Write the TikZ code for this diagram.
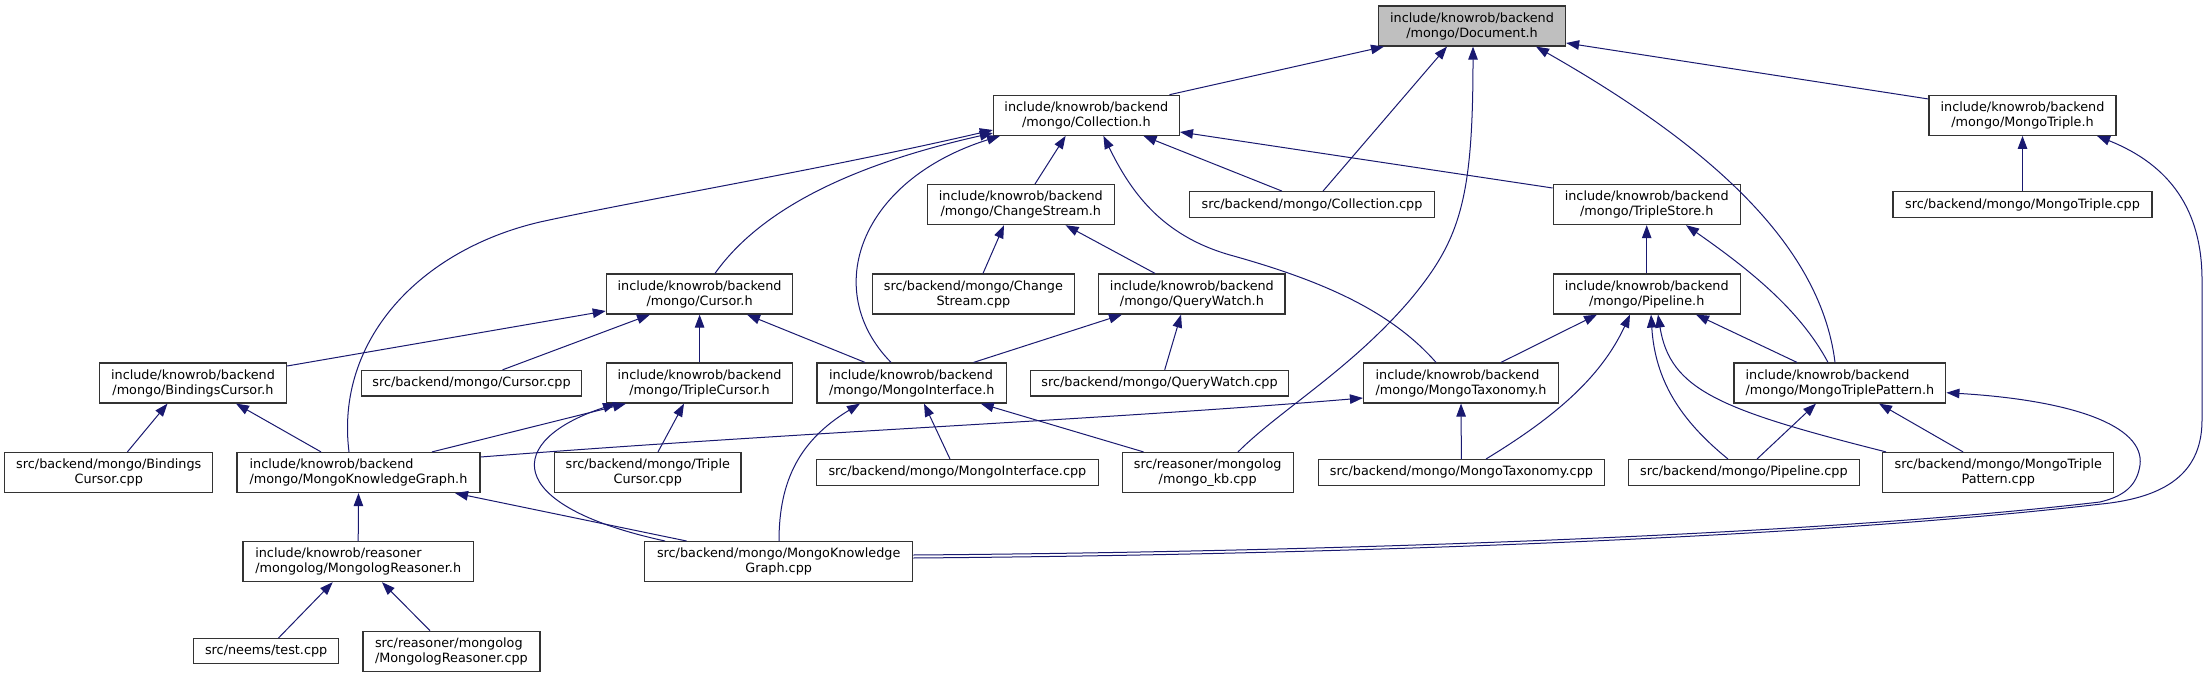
\documentclass[tikz,border=0pt]{standalone}
\usepackage{fontspec}
\setmainfont{DejaVu Sans}
\usetikzlibrary{arrows.meta}
\definecolor{edgeblue}{RGB}{25,25,112}
\definecolor{rootgray}{RGB}{191,191,191}
\tikzset{
  box/.style={draw=black!80, line width=1.2pt, fill=white, rectangle, inner sep=0pt,
    align=center, font=\fontsize{12.8}{15}\selectfont, text=black, minimum height=40pt},
  boxl/.style={box, align=left},
  onebox/.style={box, minimum height=25.6pt},
  rootbox/.style={box, fill=rootgray},
  dep/.style={draw=edgeblue, line width=1pt, {Triangle[length=13pt,width=9.5pt]}-}
}
\begin{document}
\begin{tikzpicture}[x=1pt,y=-1pt]
\fill[white] (0,0) rectangle (2208,677);
\useasboundingbox (0,0) rectangle (2208,677);

% nodes
\node[rootbox, minimum width=187pt] (doc) at (1472,26) {include/knowrob/backend\\/mongo/Document.h};
\node[box, minimum width=186pt] (coll) at (1086.4,115.3) {include/knowrob/backend\\/mongo/Collection.h};
\node[box, minimum width=187pt] (mtrip) at (2022.5,115.3) {include/knowrob/backend\\/mongo/MongoTriple.h};
\node[box, minimum width=187pt] (chs) at (1020.8,204.6) {include/knowrob/backend\\/mongo/ChangeStream.h};
\node[onebox, minimum width=244.5pt] (collcpp) at (1312,204.5) {src/backend/mongo/Collection.cpp};
\node[box, minimum width=187pt] (ts) at (1646.7,204.6) {include/knowrob/backend\\/mongo/TripleStore.h};
\node[onebox, minimum width=259pt] (mtripcpp) at (2022.5,204.5) {src/backend/mongo/MongoTriple.cpp};
\node[box, minimum width=186.5pt] (cur) at (699.6,294) {include/knowrob/backend\\/mongo/Cursor.h};
\node[box, minimum width=201.5pt] (chscpp) at (973.4,294) {src/backend/mongo/Change\\Stream.cpp};
\node[box, minimum width=186.3pt] (qw) at (1191.9,294) {include/knowrob/backend\\/mongo/QueryWatch.h};
\node[box, minimum width=187pt] (pipe) at (1646.7,294) {include/knowrob/backend\\/mongo/Pipeline.h};
\node[box, minimum width=187pt] (bc) at (193,383) {include/knowrob/backend\\/mongo/BindingsCursor.h};
\node[onebox, minimum width=220pt] (curcpp) at (471.5,383.2) {src/backend/mongo/Cursor.cpp};
\node[box, minimum width=186.5pt] (tc) at (699.6,383) {include/knowrob/backend\\/mongo/TripleCursor.h};
\node[boxl, minimum width=189.7pt] (mi) at (911.8,383) {include/knowrob/backend\\/mongo/MongoInterface.h};
\node[onebox, minimum width=258.6pt] (qwcpp) at (1159.5,383.2) {src/backend/mongo/QueryWatch.cpp};
\node[boxl, minimum width=195pt] (mt) at (1461,383) {include/knowrob/backend\\/mongo/MongoTaxonomy.h};
\node[boxl, minimum width=211.8pt] (mtp) at (1839.9,383) {include/knowrob/backend\\/mongo/MongoTriplePattern.h};
\node[box, minimum width=208pt] (bccpp) at (108.8,472.5) {src/backend/mongo/Bindings\\Cursor.cpp};
\node[boxl, minimum width=243pt] (mkg) at (358.5,472.5) {include/knowrob/backend\\/mongo/MongoKnowledgeGraph.h};
\node[box, minimum width=186.5pt] (tccpp) at (647.8,472.5) {src/backend/mongo/Triple\\Cursor.cpp};
\node[onebox, minimum width=281.7pt] (micpp) at (957.4,472.4) {src/backend/mongo/MongoInterface.cpp};
\node[box, minimum width=170.8pt] (kbcpp) at (1207.7,472.5) {src/reasoner/mongolog\\/mongo\_kb.cpp};
\node[onebox, minimum width=286.5pt] (mtcpp) at (1461.4,472.4) {src/backend/mongo/MongoTaxonomy.cpp};
\node[onebox, minimum width=230.6pt] (pipecpp) at (1743.9,472.4) {src/backend/mongo/Pipeline.cpp};
\node[box, minimum width=231pt] (mtpcpp) at (1998.3,472.5) {src/backend/mongo/MongoTriple\\Pattern.cpp};
\node[boxl, minimum width=230.3pt] (mr) at (358.2,561.6) {include/knowrob/reasoner\\/mongolog/MongologReasoner.h};
\node[box, minimum width=268pt] (mkgcpp) at (778.7,561.6) {src/backend/mongo/MongoKnowledge\\Graph.cpp};
\node[onebox, minimum width=145.3pt, minimum height=25pt] (test) at (266.2,651.2) {src/neems/test.cpp};
\node[boxl, minimum width=177pt] (mrcpp) at (451.4,651.3) {src/reasoner/mongolog\\/MongologReasoner.cpp};

% edges into Document.h
\draw[dep] (1384,0 |- doc.south) -- (1169.5,0 |- coll.north);
\draw[dep] (1447,0 |- doc.south) -- (1323,0 |- collcpp.north);
\draw[dep] (1473,0 |- doc.south) .. controls (1473,200) and (1460,240) .. (1410,300) .. controls (1350,370) and (1280,410) .. (1238,0 |- kbcpp.north);
\draw[dep] (1536,0 |- doc.south) .. controls (1700,140) and (1820,240) .. (1835,0 |- mtp.north);
\draw[dep] (doc.east |- 0,43) -- (mtrip.west |- 0,99);

% edges into Collection.h
\draw[dep] (coll.west |- 0,130) .. controls (820,170) and (640,200) .. (540,222) .. controls (420,250) and (335,340) .. (349,0 |- mkg.north);
\draw[dep] (coll.west |- 0,133) .. controls (850,165) and (760,210) .. (715,0 |- cur.north);
\draw[dep] (1000,0 |- coll.south) .. controls (860,180) and (820,290) .. (891,0 |- mi.north);
\draw[dep] (1065.6,0 |- coll.south) -- (1035,0 |- chs.north);
\draw[dep] (1103.4,0 |- coll.south) .. controls (1130,190) and (1160,235) .. (1230,255) .. controls (1320,280) and (1390,310) .. (1436,0 |- mt.north);
\draw[dep] (1143.5,0 |- coll.south) -- (1282,0 |- collcpp.north);
\draw[dep] (coll.east |- 0,132) -- (ts.west |- 0,188);

% edges into MongoTriple.h
\draw[dep] (mtrip.south) -- (mtripcpp.north);
\draw[dep] (2097,0 |- mtrip.south) .. controls (2170,165) and (2202,210) .. (2202,280) -- (2202,420) .. controls (2202,470) and (2170,495) .. (2110,503) .. controls (1800,540) and (1300,555) .. (mkgcpp.east |- 0,558);

% edges into ChangeStream.h
\draw[dep] (1004,0 |- chs.south) -- (983,0 |- chscpp.north);
\draw[dep] (1065.6,0 |- chs.south) -- (1155,0 |- qw.north);

% edges into TripleStore.h
\draw[dep] (ts.south) -- (pipe.north);
\draw[dep] (1686,0 |- ts.south) .. controls (1750,270) and (1800,310) .. (1828,0 |- mtp.north);

% edges into Cursor.h
\draw[dep] (cur.west |- 0,311) -- (bc.east |- 0,366);
\draw[dep] (650,0 |- cur.south) -- (502.6,0 |- curcpp.north);
\draw[dep] (cur.south) -- (tc.north);
\draw[dep] (747,0 |- cur.south) -- (865,0 |- mi.north);

% edges into QueryWatch.h
\draw[dep] (1122,0 |- qw.south) -- (973.6,0 |- mi.north);
\draw[dep] (1181,0 |- qw.south) -- (1164.7,0 |- qwcpp.north);

% edges into Pipeline.h
\draw[dep] (1597,0 |- pipe.south) -- (1501,0 |- mt.north);
\draw[dep] (1630,0 |- pipe.south) .. controls (1600,380) and (1550,420) .. (1486,0 |- mtcpp.north);
\draw[dep] (1651,0 |- pipe.south) .. controls (1655,380) and (1680,420) .. (1728,0 |- pipecpp.north);
\draw[dep] (1658,0 |- pipe.south) .. controls (1670,390) and (1720,410) .. (1886,0 |- mtpcpp.north);
\draw[dep] (1696,0 |- pipe.south) -- (1797,0 |- mtp.north);

% edges into BindingsCursor.h
\draw[dep] (167.5,0 |- bc.south) -- (127.4,0 |- bccpp.north);
\draw[dep] (236,0 |- bc.south) -- (321,0 |- mkg.north);

% edges into TripleCursor.h
\draw[dep] (626,0 |- tc.south) -- (432,0 |- mkg.north);
\draw[dep] (684,0 |- tc.south) -- (658,0 |- tccpp.north);
\draw[dep] (616,0 |- tc.south) .. controls (505,440) and (500,505) .. (665,0 |- mkgcpp.north);

% edges into MongoInterface.h
\draw[dep] (860,0 |- mi.south) .. controls (800,440) and (779,480) .. (779,0 |- mkgcpp.north);
\draw[dep] (924,0 |- mi.south) -- (950,0 |- micpp.north);
\draw[dep] (980.7,0 |- mi.south) -- (1143.5,0 |- kbcpp.north);

% edges into MongoTaxonomy.h
\draw[dep] (mt.west |- 0,398) .. controls (1100,420) and (800,432) .. (mkg.east |- 0,457);
\draw[dep] (mt.south) -- (mtcpp.north);

% edges into MongoTriplePattern.h
\draw[dep] (1816,0 |- mtp.south) -- (1757,0 |- pipecpp.north);
\draw[dep] (1879,0 |- mtp.south) -- (1963,0 |- mtpcpp.north);
\draw[dep] (mtp.east |- 0,392.7) .. controls (2070,400) and (2145,425) .. (2140,465) .. controls (2137,485) and (2125,496) .. (2100,502) .. controls (1800,537) and (1300,552) .. (mkgcpp.east |- 0,555);

% edges into MongoKnowledgeGraph.h
\draw[dep] (mkg.south) -- (mr.north);
\draw[dep] (455,0 |- mkg.south) -- (686.6,0 |- mkgcpp.north);

% edges into MongologReasoner.h
\draw[dep] (332.7,0 |- mr.south) -- (278.4,0 |- test.north);
\draw[dep] (382,0 |- mr.south) -- (430,0 |- mrcpp.north);
\end{tikzpicture}
\end{document}
